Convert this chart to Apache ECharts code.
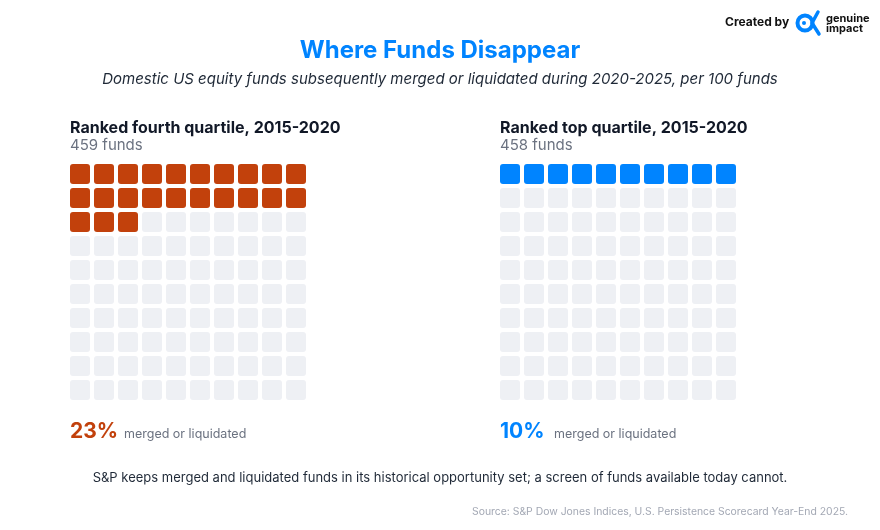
<!DOCTYPE html>
<html>
<head>
<meta charset="utf-8">
<script src="https://cdn.jsdelivr.net/npm/echarts@6/dist/echarts.min.js"></script>
<style>
  html, body { margin: 0; padding: 0; background: #fff; }
  #chart { width: 880px; height: 530px; }
</style>
</head>
<body>
<div id="chart"></div>
<script>
// data
var panelTitles = ['Ranked fourth quartile, 2015-2020', 'Ranked top quartile, 2015-2020'];
var fundCounts = [459, 458];
var mergedPct = [23, 10];
var panelColors = ['#C2410C', '#0084FF'];
var gridCols = ['0','1','2','3','4','5','6','7','8','9'];
var gridRows = ['0','1','2','3','4','5','6','7','8','9'];

var FONT = 'Inter, "Noto Sans", sans-serif';
var emptyColor = '#EEF0F4';

// build waffle cells: row by row, first N cells filled
function waffle(pct) {
  var cells = [];
  for (var r = 0; r < gridRows.length; r++) {
    for (var c = 0; c < gridCols.length; c++) {
      var idx = r * gridCols.length + c;
      cells.push([c, r, idx < pct ? 1 : 0]);
    }
  }
  return cells;
}

function renderCell(color) {
  return function (params, api) {
    var p = api.coord([api.value(0), api.value(1)]);
    var band = api.size([1, 1]);
    var w = band[0] - 4, h = band[1] - 4;
    return {
      type: 'rect',
      shape: { x: p[0] - w / 2, y: p[1] - h / 2, width: w, height: h, r: 3 },
      style: { fill: api.value(2) ? color : emptyColor }
    };
  };
}

var lefts = [68, 498];
var grids = [], xAxes = [], yAxes = [], series = [], texts = [];

for (var i = 0; i < 2; i++) {
  grids.push({ left: lefts[i], top: 162, width: 240, height: 240 });
  xAxes.push({ type: 'category', gridIndex: i, data: gridCols, show: false });
  yAxes.push({ type: 'category', gridIndex: i, data: gridRows, inverse: true, show: false });
  series.push({
    type: 'custom',
    xAxisIndex: i,
    yAxisIndex: i,
    renderItem: renderCell(panelColors[i]),
    data: waffle(mergedPct[i]),
    silent: true
  });
  var x0 = lefts[i] + 2;
  texts.push(
    { type: 'text', left: x0, top: 120, style: { text: panelTitles[i], font: 'bold 16px ' + FONT, fill: '#111827' } },
    { type: 'text', left: x0, top: 138, style: { text: fundCounts[i] + ' funds', font: '15px ' + FONT, fill: '#6B7280' } },
    { type: 'text', left: x0, top: 421, style: { text: mergedPct[i] + '%', font: 'bold 21px ' + FONT, fill: panelColors[i] } },
    { type: 'text', left: x0 + 54, top: 428, style: { text: 'merged or liquidated', font: '12.5px ' + FONT, fill: '#6B7280' } }
  );
}

var chart = echarts.init(document.getElementById('chart'));
chart.setOption({
  animation: false,
  backgroundColor: '#fff',
  title: {
    text: 'Where Funds Disappear',
    subtext: 'Domestic US equity funds subsequently merged or liquidated during 2020-2025, per 100 funds',
    left: 'center',
    top: 34,
    itemGap: 9,
    textStyle: { fontFamily: FONT, fontSize: 24, fontWeight: 'bold', color: '#0084FF' },
    subtextStyle: { fontFamily: FONT, fontSize: 15, fontStyle: 'italic', color: '#1F2937' }
  },
  grid: grids,
  xAxis: xAxes,
  yAxis: yAxes,
  series: series,
  graphic: texts.concat([
    { type: 'text', left: 'center', top: 472, style: { text: 'S&P keeps merged and liquidated funds in its historical opportunity set; a screen of funds available today cannot.', font: '13px ' + FONT, fill: '#1F2937' } },
    { type: 'text', right: 32, top: 507, style: { text: 'Source: S&P Dow Jones Indices, U.S. Persistence Scorecard Year-End 2025.', font: '10.4px ' + FONT, fill: '#A3A8B4' } },
    { type: 'text', left: 725, top: 16, style: { text: 'Created by', font: 'bold 12px ' + FONT, fill: '#111' } },
    // logo mark
    { type: 'circle', shape: { cx: 805, cy: 23, r: 7.5 }, style: { fill: 'none', stroke: '#0084FF', lineWidth: 4 } },
    { type: 'circle', shape: { cx: 804, cy: 23, r: 2 }, style: { fill: '#0084FF' } },
    { type: 'polyline', shape: { points: [[818, 12], [812, 23], [819, 34]] }, style: { fill: 'none', stroke: '#0084FF', lineWidth: 3.5, lineCap: 'round', lineJoin: 'round' } },
    { type: 'text', left: 826, top: 13, style: { text: 'genuine\nimpact', font: 'bold 11px ' + FONT, lineHeight: 10, fill: '#111' } }
  ])
});
</script>
</body>
</html>
